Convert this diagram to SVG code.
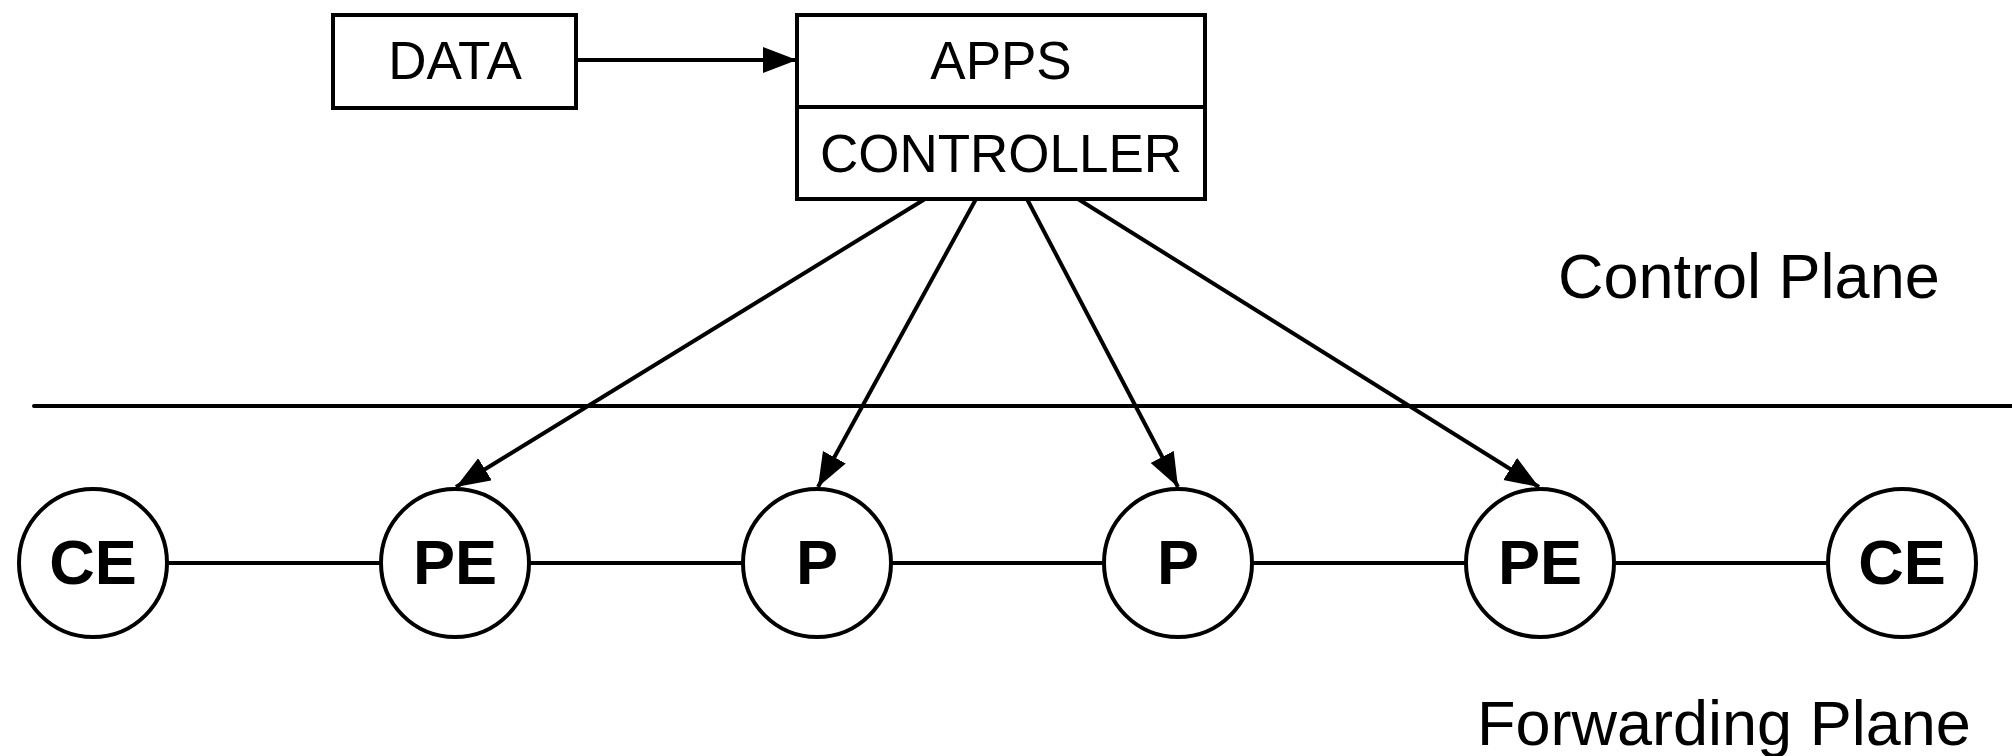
<svg xmlns="http://www.w3.org/2000/svg" width="2012" height="756" viewBox="0 0 2012 756">
  <style>
    .box { fill: #fff; stroke: #000; stroke-width: 4; }
    .node { fill: #fff; stroke: #000; stroke-width: 4; }
    .edge { fill: none; stroke: #000; stroke-width: 4; }
    .lbl { font-family: "Liberation Sans", Arial, Helvetica, sans-serif; font-size: 53px; fill: #000; text-anchor: middle; }
    .nlbl { font-family: "Liberation Sans", Arial, Helvetica, sans-serif; font-size: 63px; font-weight: bold; fill: #000; text-anchor: middle; }
    .plane { font-family: "Liberation Sans", Arial, Helvetica, sans-serif; font-size: 63px; fill: #000; }
  </style>
  <defs>
    <marker id="arrow" markerUnits="userSpaceOnUse" markerWidth="36" markerHeight="28" refX="34" refY="13" orient="auto">
      <path d="M0,0 L34,13 L0,26 Z" fill="#000"/>
    </marker>
  </defs>

  <rect width="2012" height="756" fill="#fff"/>

  <!-- plane divider and labels -->
  <g id="planes">
    <line x1="34" y1="406" x2="2012" y2="406" stroke="#000" stroke-width="4" stroke-linecap="round"/>
    <text class="plane" x="1558" y="298">Control Plane</text>
    <text class="plane" x="1477" y="745">Forwarding Plane</text>
  </g>

  <!-- connectors -->
  <g id="connectors">
    <line class="edge" x1="576" y1="60" x2="797" y2="60" marker-end="url(#arrow)"/>
    <line class="edge" x1="925" y1="199" x2="456" y2="487" marker-end="url(#arrow)"/>
    <line class="edge" x1="976" y1="199" x2="818" y2="487" marker-end="url(#arrow)"/>
    <line class="edge" x1="1027" y1="199" x2="1178" y2="487" marker-end="url(#arrow)"/>
    <line class="edge" x1="1078" y1="199" x2="1539" y2="487" marker-end="url(#arrow)"/>
    <line class="edge" x1="167" y1="563" x2="381" y2="563"/>
    <line class="edge" x1="529" y1="563" x2="743" y2="563"/>
    <line class="edge" x1="891" y1="563" x2="1104" y2="563"/>
    <line class="edge" x1="1252" y1="563" x2="1466" y2="563"/>
    <line class="edge" x1="1614" y1="563" x2="1828" y2="563"/>
  </g>

  <g id="data">
    <rect class="box" x="333" y="15" width="243" height="93"/>
    <text class="lbl" x="455" y="79">DATA</text>
  </g>

  <g id="controller">
    <rect class="box" x="797" y="15" width="408" height="184"/>
    <line x1="797" y1="107" x2="1205" y2="107" stroke="#000" stroke-width="4"/>
    <text class="lbl" x="1001" y="79">APPS</text>
    <text class="lbl" x="1001" y="172">CONTROLLER</text>
  </g>

  <g id="ce1">
    <circle class="node" cx="93" cy="563" r="74"/>
    <text class="nlbl" x="93" y="584">CE</text>
  </g>
  <g id="pe1">
    <circle class="node" cx="455" cy="563" r="74"/>
    <text class="nlbl" x="455" y="584">PE</text>
  </g>
  <g id="p1">
    <circle class="node" cx="817" cy="563" r="74"/>
    <text class="nlbl" x="817" y="584">P</text>
  </g>
  <g id="p2">
    <circle class="node" cx="1178" cy="563" r="74"/>
    <text class="nlbl" x="1178" y="584">P</text>
  </g>
  <g id="pe2">
    <circle class="node" cx="1540" cy="563" r="74"/>
    <text class="nlbl" x="1540" y="584">PE</text>
  </g>
  <g id="ce2">
    <circle class="node" cx="1902" cy="563" r="74"/>
    <text class="nlbl" x="1902" y="584">CE</text>
  </g>
</svg>
